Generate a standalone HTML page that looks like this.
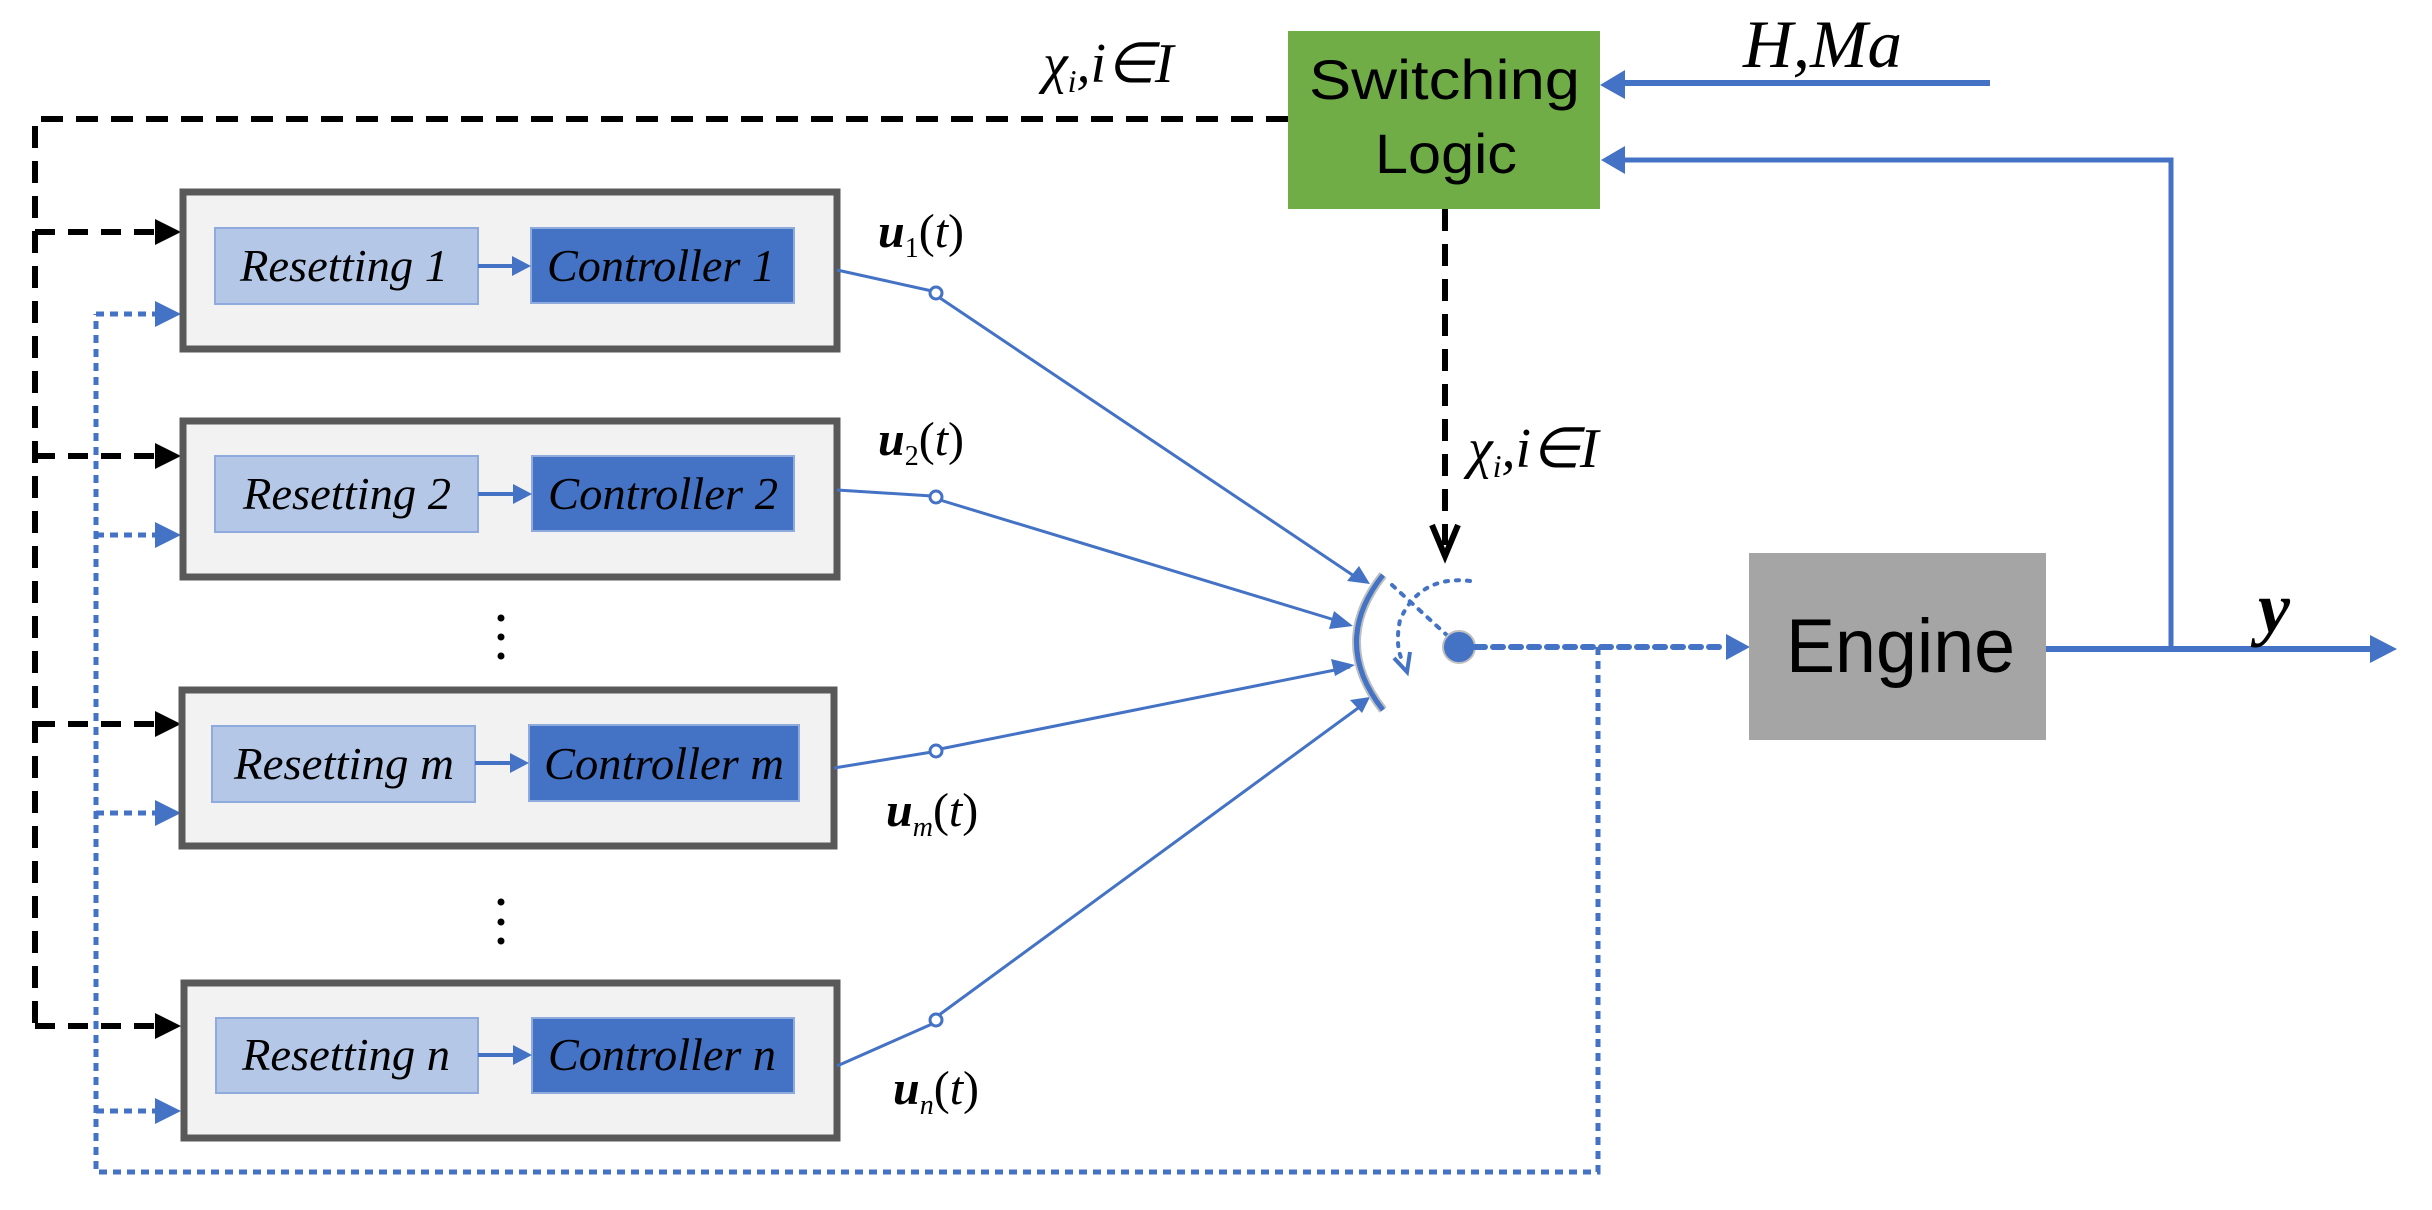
<!DOCTYPE html>
<html><head><meta charset="utf-8"><style>
html,body{margin:0;padding:0;background:#fff;}
svg{display:block;}
.it{font-family:"Liberation Serif",serif;font-style:italic;}
.sans{font-family:"Liberation Sans",sans-serif;}
</style></head><body>
<svg width="2432" height="1210" viewBox="0 0 2432 1210" xmlns="http://www.w3.org/2000/svg">
<!-- top dashed black line -->
<path d="M1288,119 H35 V1026" fill="none" stroke="#000" stroke-width="6" stroke-dasharray="22,13"/>
<g stroke="#000" stroke-width="6" stroke-dasharray="20,13" fill="none">
<path d="M35,232 H158"/><path d="M35,456 H158"/><path d="M35,724 H158"/><path d="M35,1026 H158"/>
</g>
<g fill="#000">
<path d="M155,219 L181,232 L155,245z"/><path d="M155,443 L181,456 L155,469z"/><path d="M155,711 L181,724 L155,737z"/><path d="M155,1013 L181,1026 L155,1039z"/>
</g>
<!-- blue dotted feedback -->
<path d="M1598,647 V1172 H96 V314" fill="none" stroke="#4472c4" stroke-width="5" stroke-dasharray="8,6"/>
<g stroke="#4472c4" stroke-width="5" stroke-dasharray="8,6" fill="none">
<path d="M96,314 H158"/><path d="M96,535 H158"/><path d="M96,813 H158"/><path d="M96,1111 H158"/>
</g>
<g fill="#4472c4">
<path d="M155,301 L181,314 L155,327z"/><path d="M155,522 L181,535 L155,548z"/><path d="M155,800 L181,813 L155,826z"/><path d="M155,1098 L181,1111 L155,1124z"/>
</g>
<!-- controller boxes -->
<g fill="#f2f2f2" stroke="#595959" stroke-width="7">
<rect x="183" y="192" width="654" height="157"/>
<rect x="183" y="421" width="654" height="156"/>
<rect x="182" y="690" width="652" height="156"/>
<rect x="184" y="983" width="653" height="155"/>
</g>
<g stroke="#8faadc" stroke-width="2">
<rect x="215" y="228" width="263" height="76" fill="#b4c7e7"/>
<rect x="531" y="228" width="263" height="75" fill="#4472c4"/>
<rect x="215" y="456" width="263" height="76" fill="#b4c7e7"/>
<rect x="532" y="456" width="262" height="75" fill="#4472c4"/>
<rect x="212" y="726" width="263" height="76" fill="#b4c7e7"/>
<rect x="529" y="725" width="270" height="76" fill="#4472c4"/>
<rect x="216" y="1018" width="262" height="75" fill="#b4c7e7"/>
<rect x="532" y="1018" width="262" height="75" fill="#4472c4"/>
</g>
<g stroke="#4472c4" stroke-width="4"><path d="M478,266 H515"/><path d="M478,494 H516"/><path d="M475,763 H513"/><path d="M478,1055 H516"/></g>
<g fill="#4472c4"><path d="M512,256 L531,266 L512,276z"/><path d="M513,484 L532,494 L513,504z"/><path d="M510,753 L529,763 L510,773z"/><path d="M513,1045 L532,1055 L513,1065z"/></g>
<g class="it" font-size="46" fill="#000">
<text x="240" y="281" textLength="208" lengthAdjust="spacingAndGlyphs">Resetting 1</text>
<text x="547" y="281" textLength="228" lengthAdjust="spacingAndGlyphs">Controller 1</text>
<text x="243" y="509" textLength="208" lengthAdjust="spacingAndGlyphs">Resetting 2</text>
<text x="548" y="509" textLength="230" lengthAdjust="spacingAndGlyphs">Controller 2</text>
<text x="234" y="779" textLength="220" lengthAdjust="spacingAndGlyphs">Resetting m</text>
<text x="544" y="779" textLength="240" lengthAdjust="spacingAndGlyphs">Controller m</text>
<text x="242" y="1070" textLength="208" lengthAdjust="spacingAndGlyphs">Resetting n</text>
<text x="548" y="1070" textLength="228" lengthAdjust="spacingAndGlyphs">Controller n</text>
</g>
<g fill="#000"><circle cx="501" cy="618" r="3.5"/><circle cx="501" cy="637" r="3.5"/><circle cx="501" cy="656" r="3.5"/><circle cx="501" cy="902" r="3.5"/><circle cx="501" cy="922" r="3.5"/><circle cx="501" cy="941" r="3.5"/></g>
<g stroke="#4472c4" stroke-width="3" fill="none">
<path d="M837,270 L932,291"/><path d="M940,298 L1360,580"/>
<path d="M837,490 L932,496"/><path d="M940,500 L1348,624"/>
<path d="M834,768 L932,752"/><path d="M940,749 L1350,667"/>
<path d="M837,1066 L932,1024"/><path d="M939,1015 L1365,703"/>
</g>
<g fill="#fff" stroke="#4472c4" stroke-width="3">
<circle cx="936" cy="293" r="6"/><circle cx="936" cy="497" r="6"/><circle cx="936" cy="751" r="6"/><circle cx="936" cy="1020" r="6"/>
</g>
<g fill="#4472c4">
<path d="M1370,584 L1347,581 L1359,566z"/>
<path d="M1353,626 L1329,629 L1334,611z"/>
<path d="M1355,665 L1335,676 L1331,659z"/>
<path d="M1370,697 L1362,713 L1350,700z"/>
</g>
<path d="M1383,575 Q1330,642 1383,710" fill="none" stroke="#bfbfbf" stroke-width="9"/>
<path d="M1383,575 Q1330,642 1383,710" fill="none" stroke="#4472c4" stroke-width="5"/>
<path d="M1392,585 L1450,638" stroke="#4472c4" stroke-width="4" stroke-dasharray="4,8" stroke-linecap="round"/>
<path d="M1470,581 Q1420,575 1400,620 Q1395,645 1402,660" fill="none" stroke="#4472c4" stroke-width="4" stroke-dasharray="3,8" stroke-linecap="round"/>
<path d="M1394,658 L1407,672 L1410,652" fill="none" stroke="#4472c4" stroke-width="4"/>
<circle cx="1459" cy="647" r="16" fill="#4472c4" stroke="#bfbfbf" stroke-width="2"/>
<path d="M1475,647 H1725" stroke="#4472c4" stroke-width="6" stroke-dasharray="10,8" stroke-linecap="round"/>
<path d="M1726,634 L1750,647 L1726,660z" fill="#4472c4"/>
<rect x="1288" y="31" width="312" height="178" fill="#70ad47"/>
<text class="sans" x="1309" y="99" font-size="56" textLength="271" lengthAdjust="spacingAndGlyphs" fill="#000">Switching</text>
<text class="sans" x="1375" y="173" font-size="56" textLength="142" lengthAdjust="spacingAndGlyphs" fill="#000">Logic</text>
<path d="M1445,209 V545" stroke="#000" stroke-width="6" stroke-dasharray="22,13"/>
<path d="M1432,525 L1445,556 L1458,525" fill="none" stroke="#000" stroke-width="6"/>
<path d="M1990,83 H1615" stroke="#4472c4" stroke-width="6"/>
<path d="M1625,70 L1600,85 L1625,99z" fill="#4472c4"/>
<path d="M2171,649 V160 H1615" fill="none" stroke="#4472c4" stroke-width="5"/>
<path d="M1625,146 L1601,160 L1625,174z" fill="#4472c4"/>
<rect x="1749" y="553" width="297" height="187" fill="#a5a5a5"/>
<text class="sans" x="1786" y="672" font-size="76" textLength="229" lengthAdjust="spacingAndGlyphs" fill="#000">Engine</text>
<path d="M2046,649 H2375" stroke="#4472c4" stroke-width="6"/>
<path d="M2370,635 L2397,649 L2370,663z" fill="#4472c4"/>
<g class="it" fill="#000">
<text x="1743" y="67" font-size="68" textLength="159" lengthAdjust="spacingAndGlyphs">H,Ma</text>
<text x="2258" y="632" font-size="72" font-weight="bold">y</text>
<text x="1043" y="82" font-size="56">χ<tspan font-size="32" dy="10">i</tspan><tspan dy="-10">,i∈I</tspan></text>
<text x="1468" y="467" font-size="56">χ<tspan font-size="32" dy="10">i</tspan><tspan dy="-10">,i∈I</tspan></text>
<text x="878" y="247" font-size="48"><tspan font-weight="bold">u</tspan><tspan font-size="28" font-style="normal" dy="10">1</tspan><tspan font-style="normal" dy="-10">(</tspan>t<tspan font-style="normal">)</tspan></text>
<text x="878" y="455" font-size="48"><tspan font-weight="bold">u</tspan><tspan font-size="28" font-style="normal" dy="10">2</tspan><tspan font-style="normal" dy="-10">(</tspan>t<tspan font-style="normal">)</tspan></text>
<text x="886" y="826" font-size="48"><tspan font-weight="bold">u</tspan><tspan font-size="28" dy="10">m</tspan><tspan font-style="normal" dy="-10">(</tspan>t<tspan font-style="normal">)</tspan></text>
<text x="893" y="1104" font-size="48"><tspan font-weight="bold">u</tspan><tspan font-size="28" dy="10">n</tspan><tspan font-style="normal" dy="-10">(</tspan>t<tspan font-style="normal">)</tspan></text>
</g>
</svg>
</body></html>
